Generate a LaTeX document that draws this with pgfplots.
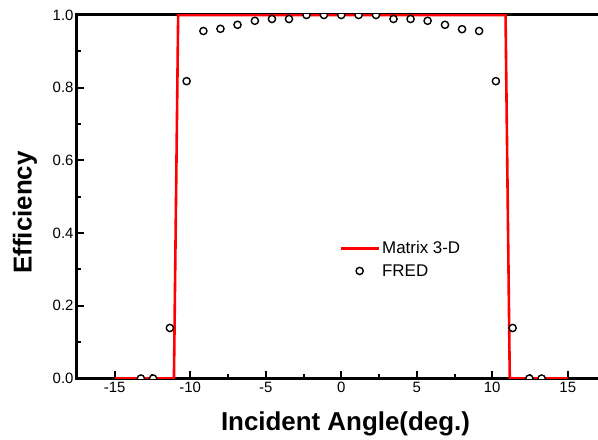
\documentclass[border=0pt]{standalone}
\usepackage{fontspec}
\setmainfont{Liberation Sans}
\usepackage{pgfplots}
\pgfplotsset{compat=1.18}
\pgfplotsset{
  mylinelegend/.style={legend image code/.code={\draw[##1, line width=3bp] (0bp,0bp) -- (38bp,0bp);}},
  mymarklegend/.style={legend image code/.code={\draw[mark repeat=2,mark phase=2,##1] plot coordinates {(0bp,0bp) (19bp,0bp) (38bp,0bp)};}},
}
\begin{document}
\begin{tikzpicture}
\path[use as bounding box] (-77bp,-61.5bp) rectangle (521bp,378.5bp);
% frame (axis box drawn bold)
\draw[line width=2.6bp, line cap=rect] (0bp,363.5bp) -- (0bp,0bp) -- (528.5bp,0bp);
\draw[line width=2.2bp] (0bp,363.5bp) -- (528.5bp,363.5bp);
\begin{axis}[
  at={(0bp,0bp)}, anchor=south west,
  scale only axis, width=528.5bp, height=363.5bp,
  xmin=-17.5, xmax=17.5, ymin=0, ymax=1,
  xtick={-15,-10,-5,0,5,10,15}, minor x tick num=1,
  ytick={0,0.2,0.4,0.6,0.8,1.0}, minor y tick num=1,
  tick align=inside, xtick pos=left, ytick pos=left,
  major tick length=7.5bp, minor tick length=4.5bp,
  every tick/.append style={black, line width=2bp},
  major tick style={black, line width=2bp},
  minor tick style={black, line width=2bp},
  axis line style={line width=3bp},
  ticklabel style={font=\fontsize{15}{17}\selectfont},
  /pgf/number format/assume math mode=true,
  yticklabel style={/pgf/number format/.cd, fixed, fixed zerofill, precision=1},
  xlabel={Incident Angle(deg.)},
  ylabel={Efficiency},
  label style={font=\fontsize{26}{30}\selectfont\bfseries},
  xlabel style={at={(axis description cs:0.508,0)}, anchor=base, yshift=-51.5bp},
  ylabel style={at={(axis description cs:-0.0857,0.457)}, anchor=base},
  clip marker paths=true,
  legend style={draw=none, fill=none, at={(axis description cs:0.49,0.388)}, anchor=north west,
    font=\fontsize{17}{20}\selectfont, row sep=5bp},
  legend cell align=left,
]
\addplot[red, line width=2.6bp, mylinelegend]
  coordinates {(-15,0) (-11.08,0) (-10.8,1) (10.88,1) (11.16,0) (15,0)};
\addlegendentry{Matrix 3-D}
\addplot[only marks, mark=*, mark size=3.6bp,
  mark options={draw=black, fill=white, line width=1.4bp}, mymarklegend]
  coordinates {
  (-13.27,0) (-12.46,0) (-11.35,0.139) (-10.24,0.818) (-9.13,0.956) (-8.0,0.962)
  (-6.87,0.973) (-5.72,0.984) (-4.59,0.989) (-3.46,0.989) (-2.3,1.0) (-1.15,1.0)
  (0,1.0) (1.15,1.0) (2.3,1.0) (3.46,0.989) (4.59,0.989) (5.72,0.984)
  (6.87,0.973) (8.0,0.961) (9.13,0.956) (10.24,0.818) (11.35,0.139) (12.46,0) (13.27,0)
  };
\addlegendentry{FRED}
\end{axis}
\end{tikzpicture}
\end{document}
